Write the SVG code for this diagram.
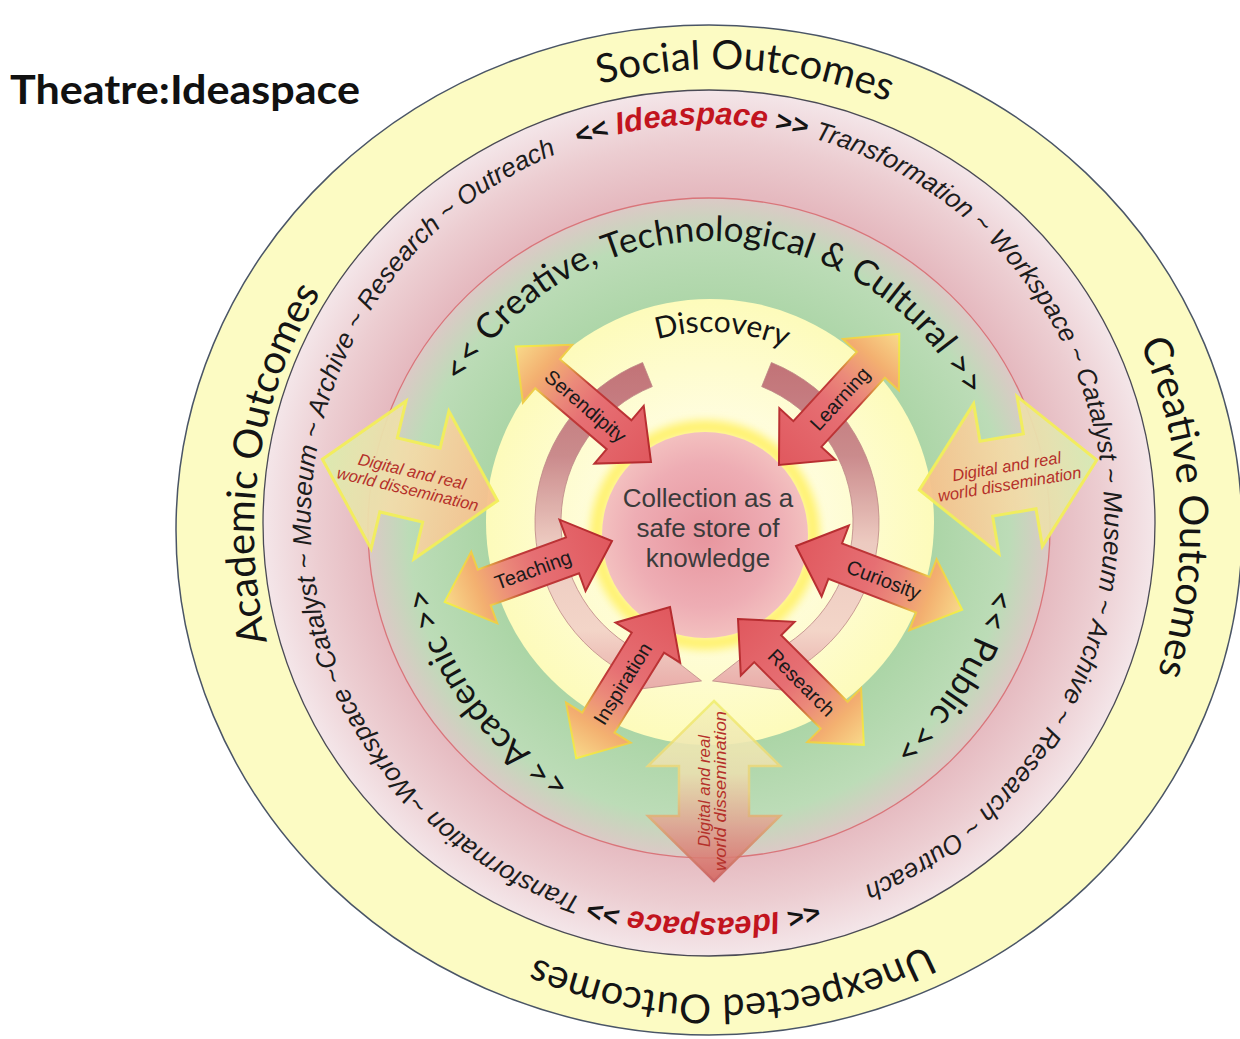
<svg xmlns="http://www.w3.org/2000/svg" width="1240" height="1039" viewBox="0 0 1240 1039">
<defs>
<style>
.title{font-family:Lato,"Open Sans","Liberation Sans",sans-serif;font-weight:700;font-size:40px;fill:#111}
.outer{font-family:Lato,"Open Sans","Liberation Sans",sans-serif;font-size:40px;fill:#141414}
.green{font-family:Lato,"Open Sans","Liberation Sans",sans-serif;font-size:35px;fill:#141414}
.disc{font-family:Lato,"Open Sans","Liberation Sans",sans-serif;font-size:30px;fill:#141414}
.ring{font-family:"Liberation Sans",Arial,sans-serif;font-style:italic;font-size:26px;fill:#1c1c1c}
.ang{font-style:normal;font-weight:700;font-size:28px;fill:#141414}
.idea{font-style:italic;font-weight:700;font-size:31px;fill:#c2141e}
.at{font-family:"Liberation Sans",Arial,sans-serif;font-size:20px;fill:#1a1a1a;text-anchor:middle}
.dt{font-family:"Liberation Sans",Arial,sans-serif;font-style:italic;font-size:16.5px;fill:#b5302a;text-anchor:middle}
.ct{font-family:"Liberation Sans",Arial,sans-serif;font-size:26px;fill:#3b3b3b;text-anchor:middle}
.rad{fill:url(#gRad);stroke:url(#gRadS);stroke-width:2}
.cyc{fill:url(#gCyc);stroke:#b98282;stroke-width:0.8;opacity:0.95}
</style>
<radialGradient id="gPink" cx="50%" cy="50%" r="50%">
<stop offset="0.76" stop-color="#e5b9bf"/>
<stop offset="0.88" stop-color="#eccdd1"/>
<stop offset="1" stop-color="#f4e6e9"/>
</radialGradient>
<radialGradient id="gGreen" cx="50%" cy="50%" r="50%">
<stop offset="0.65" stop-color="#abd5a6"/>
<stop offset="0.88" stop-color="#bcdcb7"/>
<stop offset="1" stop-color="#dcc9c6"/>
</radialGradient>
<radialGradient id="gYel" cx="50%" cy="50%" r="50%">
<stop offset="0.4" stop-color="#fffde2"/>
<stop offset="1" stop-color="#fdfbbb"/>
</radialGradient>
<radialGradient id="gCenter" cx="50%" cy="50%" r="50%">
<stop offset="0" stop-color="#e7959e"/>
<stop offset="0.7" stop-color="#eeadb4"/>
<stop offset="1" stop-color="#f3c0bf"/>
</radialGradient>
<linearGradient id="gCyc" gradientUnits="userSpaceOnUse" x1="0" y1="350" x2="0" y2="700">
<stop offset="0" stop-color="#bd6870"/>
<stop offset="0.3" stop-color="#c88589"/>
<stop offset="0.55" stop-color="#ecc8c0"/>
<stop offset="0.8" stop-color="#f3d3c8"/>
<stop offset="1" stop-color="#e6a1a2"/>
</linearGradient>
<linearGradient id="gRad" x1="0" y1="0" x2="1" y2="0">
<stop offset="0" stop-color="#e0585e"/>
<stop offset="0.45" stop-color="#e66f73"/>
<stop offset="0.62" stop-color="#eb8a7a"/>
<stop offset="0.8" stop-color="#f3b070"/>
<stop offset="1" stop-color="#f8d98a"/>
</linearGradient>
<linearGradient id="gRadS" x1="0" y1="0" x2="1" y2="0">
<stop offset="0" stop-color="#b52a2e"/>
<stop offset="0.55" stop-color="#c03a3a"/>
<stop offset="0.75" stop-color="#eecb48"/>
<stop offset="1" stop-color="#f2ef4a"/>
</linearGradient>
<linearGradient id="gDissL" x1="0" y1="0" x2="1" y2="0">
<stop offset="0" stop-color="#dcebb0"/>
<stop offset="0.45" stop-color="#f2dcaa"/>
<stop offset="1" stop-color="#f6bf8c"/>
</linearGradient>
<linearGradient id="gDissR" x1="0" y1="0" x2="1" y2="0">
<stop offset="0" stop-color="#f6c08a"/>
<stop offset="0.55" stop-color="#f2dcaa"/>
<stop offset="1" stop-color="#d6ebb6"/>
</linearGradient>
<linearGradient id="gDissB" x1="0" y1="0" x2="1" y2="0">
<stop offset="0" stop-color="#f5f3b8"/>
<stop offset="0.4" stop-color="#ece0b0"/>
<stop offset="0.7" stop-color="#e0a090"/>
<stop offset="1" stop-color="#d4645f"/>
</linearGradient>
<linearGradient id="gDissBS" x1="0" y1="0" x2="1" y2="0">
<stop offset="0" stop-color="#f0ee70"/>
<stop offset="0.5" stop-color="#eed080"/>
<stop offset="1" stop-color="#c85858"/>
</linearGradient>
<filter id="blur" x="-30%" y="-30%" width="160%" height="160%"><feGaussianBlur stdDeviation="4"/></filter>
<path id="pOuter" d="M 389.6 859.4 A 463 463 0 1 1 1044.4 204.6 A 463 463 0 1 1 389.6 859.4"/>
<path id="pPinkA" d="M 578.7 145.6 A 397 397 0 1 1 776.9 912.0"/>
<path id="pPinkB" d="M 817.4 902.6 A 397 397 0 1 1 652.7 127.9"/>
<path id="pGreen" d="M 710 815 A 287 287 0 1 1 710 241 A 287 287 0 1 1 710 815"/>
<path id="pDisc" d="M 710 712 A 190 190 0 1 1 710 332 A 190 190 0 1 1 710 712"/>
<path id="radArrow" d="M0,0 L42,-38 L42,-19 L136,-19 L136,-38 L178,0 L136,38 L136,19 L42,19 L42,38 Z"/>
<path id="dissArrow" d="M0,0 L68,-76 L68,-38 L112,-38 L112,-76 L180,0 L112,76 L112,38 L68,38 L68,76 Z"/>
<path id="dissArrowB" d="M0,0 L65,-66 L65,-35 L115,-35 L115,-66 L180,0 L115,66 L115,35 L65,35 L65,66 Z"/>
</defs>

<rect width="1240" height="1039" fill="#ffffff"/>

<g id="title">
<text class="title" x="10" y="104" textLength="350" lengthAdjust="spacingAndGlyphs">Theatre:Ideaspace</text>
</g>

<g id="ring-outcomes">
<ellipse cx="709" cy="530" rx="533" ry="505" fill="#fcfbc3" stroke="#4a5566" stroke-width="1.5"/>
<text class="outer" text-anchor="middle"><textPath href="#pOuter" startOffset="38.47%">Social Outcomes</textPath></text>
<text class="outer" text-anchor="middle"><textPath href="#pOuter" startOffset="61.64%">Creative Outcomes</textPath></text>
<text class="outer" text-anchor="middle"><textPath href="#pOuter" startOffset="86.97%">Unexpected Outcomes</textPath></text>
<text class="outer" text-anchor="middle"><textPath href="#pOuter" startOffset="14.92%">Academic Outcomes</textPath></text>
</g>

<g id="ring-ideaspace">
<ellipse cx="709" cy="523" rx="446" ry="433" fill="url(#gPink)" stroke="#4a4a55" stroke-width="1.3"/>
<text class="ring"><textPath href="#pPinkA"><tspan class="ang">&lt;&lt; </tspan><tspan class="idea">Ideaspace</tspan><tspan class="ang"> &gt;&gt; </tspan>Transformation ~ Workspace ~ Catalyst ~ Museum ~ Archive ~ Research ~ Outreach</textPath></text>
<text class="ring"><textPath href="#pPinkB"><tspan class="ang">&lt;&lt; </tspan><tspan class="idea">Ideaspace</tspan><tspan class="ang"> &gt;&gt; </tspan>Transformation ~Workspace ~Catalyst ~ Museum ~ Archive ~ Research ~ Outreach</textPath></text>
</g>

<g id="ring-domains">
<ellipse cx="709" cy="528" rx="341" ry="330" fill="url(#gGreen)" stroke="#d9757a" stroke-width="1.3"/>
<text class="green" text-anchor="middle"><textPath href="#pGreen" startOffset="50.43%">&lt;&lt; Creative, Technological &amp; Cultural &gt;&gt;</textPath></text>
<text class="green" text-anchor="middle"><textPath href="#pGreen" startOffset="83.67%">&lt;&lt; Public &gt;&gt;</textPath></text>
<text class="green" text-anchor="middle"><textPath href="#pGreen" startOffset="14.86%">&lt;&lt; Academic &gt;&gt;</textPath></text>
</g>

<g id="ring-discovery">
<ellipse cx="710" cy="522" rx="224" ry="223" fill="url(#gYel)"/>
<text class="disc" text-anchor="middle"><textPath href="#pDisc" startOffset="51%">Discovery</textPath></text>
</g>

<g id="connectors">
<g id="cycle-arrows">
<path class="cyc" d="M 642.6 362.5 A 172 172 0 0 0 634.3 677.9 L 628.4 690.6 L 701.5 680.9 L 651.2 641.6 L 645.3 654.3 A 146 146 0 0 1 652.3 386.6 Z"/>
<path class="cyc" d="M 771.4 362.5 A 172 172 0 0 1 779.7 677.9 L 785.6 690.6 L 712.5 680.9 L 762.8 641.6 L 768.7 654.3 A 146 146 0 0 0 761.7 386.6 Z"/>
</g>
</g>

<g id="center">
<circle cx="705" cy="535" r="108" fill="none" stroke="#fff270" stroke-width="14" filter="url(#blur)"/>
<circle cx="705" cy="535" r="103" fill="url(#gCenter)"/>
<text class="ct" x="708" y="507">Collection as a</text>
<text class="ct" x="708" y="537">safe store of</text>
<text class="ct" x="708" y="567">knowledge</text>
</g>

<g id="diss-left" transform="translate(410,480) rotate(13.3)">
<use href="#dissArrow" transform="translate(-90,0)" fill="url(#gDissL)" stroke="#f3ef5a" stroke-width="3" opacity="0.95"/>
<text class="dt" x="0" y="-3">Digital and real</text>
<text class="dt" x="0" y="15">world dissemination</text>
</g>

<g id="diss-right" transform="translate(1008,475) rotate(-9.6)">
<use href="#dissArrow" transform="translate(-90,0)" fill="url(#gDissR)" stroke="#f3ef5a" stroke-width="3" opacity="0.95"/>
<text class="dt" x="0" y="-3">Digital and real</text>
<text class="dt" x="0" y="15">world dissemination</text>
</g>

<g id="diss-bottom">
<g transform="translate(714,791) rotate(90)">
<use href="#dissArrowB" transform="translate(-90,0)" fill="url(#gDissB)" stroke="url(#gDissBS)" stroke-width="2.5" opacity="0.88"/>
</g>
<g transform="translate(714,791) rotate(-90)">
<text class="dt" x="0" y="-4" font-size="14" textLength="112" lengthAdjust="spacingAndGlyphs">Digital and real</text>
<text class="dt" x="0" y="12" font-size="14" textLength="160" lengthAdjust="spacingAndGlyphs">world dissemination</text>
</g>
</g>

<g id="radial-arrows">
<g id="arrow-serendipity" transform="translate(651,462) rotate(220.5)">
<use href="#radArrow" class="rad"/>
<text class="at" x="86" y="7" transform="rotate(180 86 0)">Serendipity</text>
</g>
<g id="arrow-learning" transform="translate(779,465) rotate(-47.5)">
<use href="#radArrow" class="rad"/>
<text class="at" x="90" y="7">Learning</text>
</g>
<g id="arrow-teaching" transform="translate(612,541) rotate(160)">
<use href="#radArrow" class="rad"/>
<text class="at" x="84" y="7" transform="rotate(180 84 0)">Teaching</text>
</g>
<g id="arrow-curiosity" transform="translate(796,546) rotate(21)">
<use href="#radArrow" class="rad"/>
<text class="at" x="94" y="7">Curiosity</text>
</g>
<g id="arrow-inspiration" transform="translate(670,607) rotate(121.8)">
<use href="#radArrow" class="rad"/>
<text class="at" x="90" y="7" transform="rotate(180 90 0)">Inspiration</text>
</g>
<g id="arrow-research" transform="translate(738,619) rotate(45)">
<use href="#radArrow" class="rad"/>
<text class="at" x="90" y="7">Research</text>
</g>
</g>
</svg>
